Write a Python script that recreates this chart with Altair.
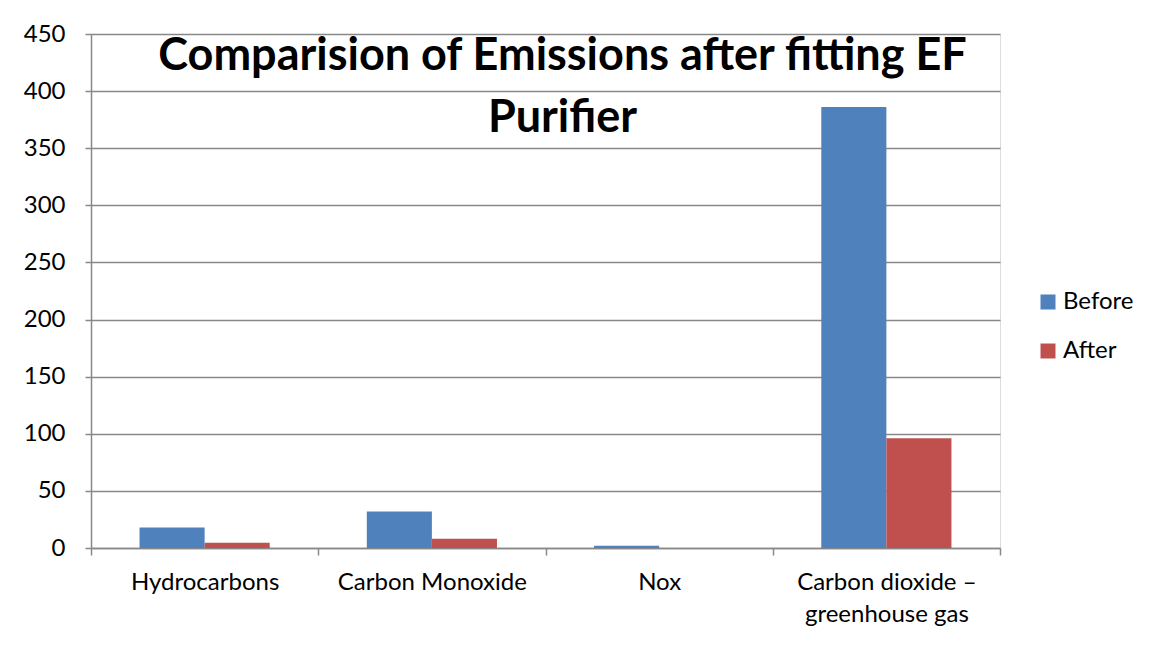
import altair as alt
import pandas as pd

categories = ["Hydrocarbons", "Carbon Monoxide", "Nox", "Carbon dioxide – greenhouse gas"]
series = ["Before", "After"]
before = [18, 32, 2, 386]
after = [4.5, 8, 0, 96]
colors = ["#4F81BD", "#C0504D"]

rows = []
for c, b, a in zip(categories, before, after):
    rows.append({"category": c, "series": "Before", "value": b})
    rows.append({"category": c, "series": "After", "value": a})
df = pd.DataFrame(rows)

FONT = "Lato"

chart = (
    alt.Chart(df)
    .mark_bar()
    .encode(
        x=alt.X(
            "category:N",
            sort=categories,
            scale=alt.Scale(paddingInner=0, paddingOuter=0),
            axis=alt.Axis(
                title=None,
                labelAngle=0,
                tickBand="extent",
                tickSize=7,
                tickColor="#888888",
                tickWidth=1.5,
                domainColor="#888888",
                domainWidth=1.5,
                labelFont=FONT,
                labelFontSize=24,
                labelColor="#000000",
                labelPadding=15,
                labelLineHeight=32,
                labelLimit=0,
                labelExpr="datum.label == 'Carbon dioxide – greenhouse gas' ? ['Carbon dioxide –', 'greenhouse gas'] : datum.label",
            ),
        ),
        xOffset=alt.XOffset(
            "series:N",
            sort=series,
            scale=alt.Scale(paddingInner=0, paddingOuter=0.746),
        ),
        y=alt.Y(
            "value:Q",
            scale=alt.Scale(domain=[0, 450], nice=False),
            axis=alt.Axis(
                title=None,
                values=list(range(0, 451, 50)),
                grid=True,
                gridColor="#888888",
                gridWidth=1.5,
                tickSize=6,
                tickColor="#888888",
                tickWidth=1.5,
                domainColor="#888888",
                domainWidth=1.5,
                labelFont=FONT,
                labelFontSize=24,
                labelColor="#000000",
                labelPadding=20,
            ),
        ),
        color=alt.Color(
            "series:N",
            sort=series,
            scale=alt.Scale(domain=series, range=colors),
            legend=alt.Legend(
                title=None,
                orient="none",
                legendX=945,
                legendY=256,
                symbolType="square",
                symbolSize=225,
                symbolStrokeWidth=0,
                labelFont=FONT,
                labelFontSize=24,
                labelColor="#000000",
                rowPadding=25,
                labelOffset=3,
            ),
        ),
    )
    .properties(
        width=909,
        height=514,
        autosize=alt.AutoSizeParams(type="none"),
        padding={"left": 83, "top": 26, "right": 144, "bottom": 89},
        title=alt.TitleParams(
            text=["Comparision of Emissions after fitting EF", "Purifier"],
            font=FONT,
            fontSize=45,
            fontWeight="bold",
            color="#000000",
            anchor="middle",
            frame="group",
            dx=17,
            offset=-119,
            lineHeight=62,
        ),
    )
    .configure_view(stroke=None)
    .configure(background="#ffffff")
)

chart.save("out.html", embed_options={"renderer": "svg", "actions": False})
